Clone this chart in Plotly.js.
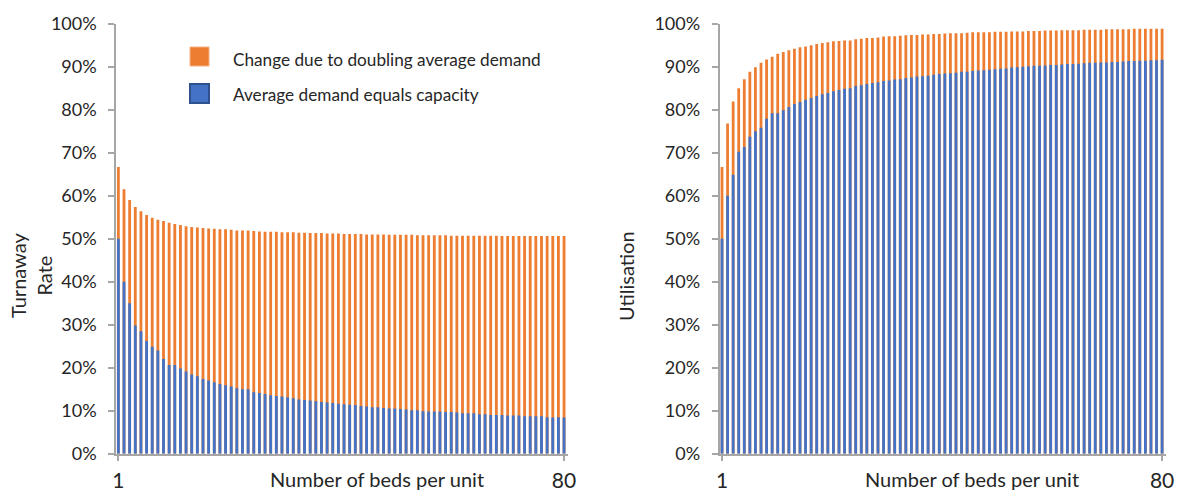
<!DOCTYPE html>
<html>
<head>
<meta charset="utf-8">
<script src="https://cdn.plot.ly/plotly-3.0.1.min.js"></script>
<style>
  html, body { margin: 0; padding: 0; background: #ffffff; }
  #chart { width: 1181px; height: 491px; }
</style>
</head>
<body>
<div id="chart"></div>
<script>
// Number of beds per unit (1 to 80)
const beds = [];
for (let b = 1; b <= 80; b++) beds.push(b);

// Turnaway rate (%) when average demand equals capacity
const turnawayBase = [
  50.0, 40.0, 35.0, 29.8, 28.5, 26.2, 24.9, 24.0, 22.0, 20.6,
  20.6, 19.8, 19.1, 18.4, 18.0, 17.4, 17.0, 16.6, 16.2, 15.9,
  15.6, 15.2, 15.0, 15.0, 14.3, 14.1, 13.9, 13.6, 13.4, 13.3,
  13.1, 12.9, 12.6, 12.5, 12.4, 12.2, 12.0, 11.9, 11.8, 11.6,
  11.5, 11.4, 11.3, 11.1, 11.0, 10.8, 10.8, 10.6, 10.5, 10.5,
  10.4, 10.3, 10.1, 10.1, 9.9, 9.8, 9.8, 9.8, 9.7, 9.7,
  9.6, 9.4, 9.4, 9.4, 9.2, 9.2, 9.0, 9.0, 9.0, 8.9,
  8.9, 8.9, 8.7, 8.7, 8.7, 8.7, 8.5, 8.4, 8.5, 8.4
];

// Turnaway rate (%) when average demand is doubled
const turnawayDoubled = [
  66.7, 61.5, 59.0, 57.4, 56.4, 55.5, 54.9, 54.4, 54.1, 53.7,
  53.4, 53.2, 52.9, 52.7, 52.6, 52.5, 52.4, 52.3, 52.2, 52.2,
  52.1, 51.9, 51.9, 51.9, 51.8, 51.7, 51.6, 51.6, 51.6, 51.5,
  51.5, 51.5, 51.4, 51.4, 51.3, 51.3, 51.3, 51.2, 51.2, 51.2,
  51.1, 51.1, 51.1, 51.1, 51.0, 51.0, 51.0, 51.0, 50.9, 50.9,
  50.9, 50.9, 50.9, 50.8, 50.8, 50.8, 50.8, 50.8, 50.8, 50.7,
  50.7, 50.7, 50.7, 50.7, 50.7, 50.7, 50.7, 50.7, 50.6, 50.6,
  50.6, 50.6, 50.6, 50.6, 50.6, 50.6, 50.6, 50.6, 50.6, 50.6
];

// Utilisation (%) when average demand equals capacity
const utilisationBase = [
  50.0, 60.0, 64.9, 70.2, 71.3, 73.7, 75.0, 75.8, 77.9, 79.2,
  79.2, 79.9, 80.6, 81.3, 81.8, 82.3, 82.7, 83.2, 83.6, 83.9,
  84.3, 84.6, 84.9, 85.0, 85.5, 85.7, 86.0, 86.2, 86.4, 86.7,
  86.8, 87.0, 87.1, 87.4, 87.5, 87.7, 87.8, 87.9, 88.1, 88.3,
  88.4, 88.5, 88.6, 88.8, 88.8, 89.0, 89.1, 89.2, 89.3, 89.4,
  89.5, 89.6, 89.8, 89.9, 90.0, 90.1, 90.2, 90.2, 90.3, 90.4,
  90.4, 90.5, 90.6, 90.6, 90.7, 90.8, 90.9, 90.9, 91.0, 91.0,
  91.1, 91.1, 91.2, 91.3, 91.3, 91.4, 91.4, 91.5, 91.5, 91.6
];

// Utilisation (%) when average demand is doubled
const utilisationDoubled = [
  66.7, 76.8, 81.9, 85.0, 87.1, 88.8, 89.9, 90.9, 91.7, 92.3,
  93.0, 93.4, 93.8, 94.2, 94.5, 94.7, 95.0, 95.3, 95.5, 95.7,
  95.9, 96.0, 96.1, 96.1, 96.4, 96.5, 96.7, 96.7, 96.8, 97.0,
  97.1, 97.1, 97.2, 97.3, 97.4, 97.4, 97.5, 97.5, 97.6, 97.6,
  97.7, 97.8, 97.8, 97.8, 97.9, 98.0, 98.0, 98.0, 98.0, 98.1,
  98.1, 98.1, 98.2, 98.2, 98.2, 98.3, 98.3, 98.3, 98.4, 98.4,
  98.4, 98.5, 98.5, 98.5, 98.5, 98.6, 98.6, 98.6, 98.6, 98.7,
  98.7, 98.7, 98.7, 98.7, 98.8, 98.8, 98.8, 98.8, 98.8, 98.8
];

const seriesNames = ['Change due to doubling average demand', 'Average demand equals capacity'];
const xTickVals = [1, 80];
const xTickText = ['1', '80'];

const ORANGE = '#ED7D31';
const BLUE = '#4472C4';
const BLUE_EDGE = '#2F528F';
const AXIS = '#A6A6A6';
const TEXT = '#262626';
const FONT = 'Lato, "Open Sans", sans-serif';

const W = 1181, H = 491;
const px = x => x / W;           // horizontal pixel -> paper
const py = y => 1 - y / H;       // vertical pixel -> paper

const barWidth = 0.5;

// The doubled-demand bar sits behind; the base bar is drawn over it,
// so the visible orange part is the change due to doubling demand.
const traces = [
  { type: 'bar', x: beds, y: turnawayDoubled, name: seriesNames[0], width: barWidth,
    marker: { color: ORANGE }, xaxis: 'x', yaxis: 'y', hoverinfo: 'x+y' },
  { type: 'bar', x: beds, y: turnawayBase, name: seriesNames[1], width: barWidth,
    marker: { color: BLUE }, xaxis: 'x', yaxis: 'y', hoverinfo: 'x+y' },
  { type: 'bar', x: beds, y: utilisationDoubled, name: seriesNames[0], width: barWidth,
    marker: { color: ORANGE }, xaxis: 'x2', yaxis: 'y2', hoverinfo: 'x+y' },
  { type: 'bar', x: beds, y: utilisationBase, name: seriesNames[1], width: barWidth,
    marker: { color: BLUE }, xaxis: 'x2', yaxis: 'y2', hoverinfo: 'x+y' }
];

const yDomain = [py(453.7), py(23.7)];

function yAxis(anchor) {
  return {
    domain: yDomain, anchor: anchor, range: [0, 100], dtick: 10, tick0: 0,
    ticksuffix: '%', showgrid: false, zeroline: false,
    showline: true, linecolor: AXIS, linewidth: 1.5,
    ticks: 'outside', ticklen: 6, tickwidth: 1.5, tickcolor: AXIS,
    ticklabelstandoff: 8,
    tickfont: { family: FONT, size: 18, color: TEXT }
  };
}

function xAxis(anchor, domain, range) {
  return {
    domain: domain, anchor: anchor, range: range,
    tickmode: 'array', tickvals: xTickVals, ticktext: xTickText,
    showgrid: false, zeroline: false,
    showline: true, linecolor: AXIS, linewidth: 1.5,
    ticks: 'outside', ticklen: 6, tickwidth: 1.5, tickcolor: AXIS,
    ticklabelstandoff: 1,
    tickfont: { family: FONT, size: 21, color: TEXT }
  };
}

const legendShapes = [
  { type: 'rect', xref: 'paper', yref: 'paper',
    x0: px(190), x1: px(209), y0: py(66), y1: py(47),
    fillcolor: ORANGE, line: { color: '#F4B183', width: 1 } },
  { type: 'rect', xref: 'paper', yref: 'paper',
    x0: px(190), x1: px(209), y0: py(103), y1: py(84),
    fillcolor: BLUE, line: { color: BLUE_EDGE, width: 2 } }
];

function note(text, x, y, opts) {
  return Object.assign({
    text: text, xref: 'paper', yref: 'paper', x: px(x), y: py(y),
    showarrow: false, font: { family: FONT, size: 20, color: TEXT }
  }, opts || {});
}

const legendFont = { family: FONT, size: 17.2, color: TEXT };

const annotations = [
  note(seriesNames[0], 231, 60, { xanchor: 'left', yanchor: 'middle', font: legendFont }),
  note(seriesNames[1], 231, 95, { xanchor: 'left', yanchor: 'middle', font: legendFont }),
  note('Turnaway<br>Rate', 31, 276, { textangle: -90, xanchor: 'center', yanchor: 'middle' }),
  note('Utilisation', 626, 276, { textangle: -90, xanchor: 'center', yanchor: 'middle' }),
  note('Number of beds per unit', 377, 479, { xanchor: 'center', yanchor: 'middle' }),
  note('Number of beds per unit', 972, 479, { xanchor: 'center', yanchor: 'middle' })
];

const layout = {
  width: W, height: H,
  margin: { l: 0, r: 0, t: 0, b: 0, pad: 0 },
  paper_bgcolor: '#ffffff', plot_bgcolor: '#ffffff',
  barmode: 'overlay',
  showlegend: false,
  xaxis: xAxis('y', [px(116), px(568)], [0.58, 80.7]),
  yaxis: yAxis('x'),
  xaxis2: xAxis('y2', [px(719.5), px(1166)], [0.55, 80.7]),
  yaxis2: yAxis('x2'),
  shapes: legendShapes,
  annotations: annotations,
  font: { family: FONT, color: TEXT }
};

Plotly.newPlot('chart', traces, layout, { displayModeBar: false, responsive: false });
</script>
</body>
</html>
